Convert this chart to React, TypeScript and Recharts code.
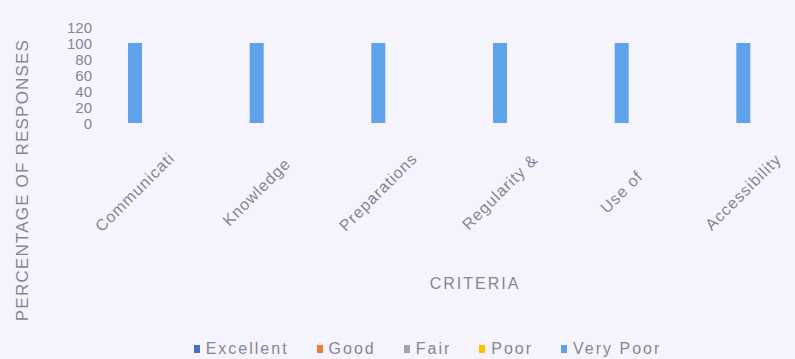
import React from 'react';
import { BarChart, Bar, XAxis, YAxis, Legend, Label } from 'recharts';

const categories = ['Communicati', 'Knowledge', 'Preparations', 'Regularity &', 'Use of', 'Accessibility'];
const excellent = [0, 0, 0, 0, 0, 0];
const good = [0, 0, 0, 0, 0, 0];
const fair = [0, 0, 0, 0, 0, 0];
const poor = [0, 0, 0, 0, 0, 0];
const veryPoor = [100, 100, 100, 100, 100, 100];
const yTicks = [0, 20, 40, 60, 80, 100, 120];

const seriesList = [
  { key: 'excellent', name: 'Excellent', color: '#4472C4' },
  { key: 'good', name: 'Good', color: '#ED7D31' },
  { key: 'fair', name: 'Fair', color: '#A5A5A5' },
  { key: 'poor', name: 'Poor', color: '#FFC000' },
  { key: 'veryPoor', name: 'Very Poor', color: '#5DA2EA' },
];

const data = categories.map((name, i) => ({
  name,
  excellent: excellent[i],
  good: good[i],
  fair: fair[i],
  poor: poor[i],
  veryPoor: veryPoor[i],
}));

const FONT = '"Liberation Sans", Arial, sans-serif';
const TEXT = '#85859a';

const CategoryTick = (props: any) => {
  const { x, payload } = props;
  const cy = 192;
  return (
    <text
      x={x}
      y={cy}
      textAnchor="middle"
      dominantBaseline="central"
      transform={`rotate(-45 ${x} ${cy})`}
      fontSize={16}
      letterSpacing={1}
      fontFamily={FONT}
      fill={TEXT}
    >
      {payload.value}
    </text>
  );
};

const ValueTick = (props: any) => {
  const { y, payload } = props;
  return (
    <text x={92} y={y} textAnchor="end" dominantBaseline="central" fontSize={15} fontFamily={FONT} fill={TEXT}>
      {payload.value}
    </text>
  );
};

const LegendBox = () => (
  <div
    style={{
      display: 'flex',
      justifyContent: 'center',
      alignItems: 'center',
      height: 20,
      width: 795,
      fontFamily: FONT,
      fontSize: 16,
      letterSpacing: 2,
      color: TEXT,
      paddingLeft: 60,
      boxSizing: 'border-box',
    }}
  >
    {seriesList.map((s) => (
      <span key={s.key} style={{ display: 'flex', alignItems: 'center', margin: '0 14px' }}>
        <span style={{ width: 6, height: 8, background: s.color, marginRight: 6, display: 'inline-block' }} />
        {s.name}
      </span>
    ))}
  </div>
);

export default function App() {
  return (
    <div
      style={{
        position: 'absolute',
        left: 0,
        top: 0,
        width: 795,
        height: 359,
        overflow: 'hidden',
        background: '#f5f4fc',
      }}
    >
      <BarChart width={810} height={359} data={data} margin={{ top: 27, right: 6, bottom: 0, left: 0 }}>
        <YAxis
          width={74}
          domain={[0, 120]}
          ticks={yTicks}
          axisLine={false}
          tickLine={false}
          tick={<ValueTick />}
          interval={0}
        >
          <Label
            content={() => (
              <text
                x={22}
                y={180}
                textAnchor="middle"
                dominantBaseline="central"
                transform="rotate(-90 22 180)"
                fontSize={17}
                fontFamily={FONT}
                fill={TEXT}
                letterSpacing={1.2}
              >
                PERCENTAGE OF RESPONSES
              </text>
            )}
          />
        </YAxis>
        <XAxis dataKey="name" height={216} axisLine={false} tickLine={false} interval={0} tick={<CategoryTick />}>
          <Label
            content={() => (
              <text
                x={475}
                y={283}
                textAnchor="middle"
                dominantBaseline="central"
                fontSize={16}
                fontFamily={FONT}
                fill={TEXT}
                letterSpacing={2}
              >
                CRITERIA
              </text>
            )}
          />
        </XAxis>
        <Legend verticalAlign="bottom" height={20} content={<LegendBox />} />
        {seriesList.map((s) => (
          <Bar
            key={s.key}
            dataKey={s.key}
            name={s.name}
            stackId="a"
            fill={s.color}
            barSize={14}
            isAnimationActive={false}
          />
        ))}
      </BarChart>
    </div>
  );
}
